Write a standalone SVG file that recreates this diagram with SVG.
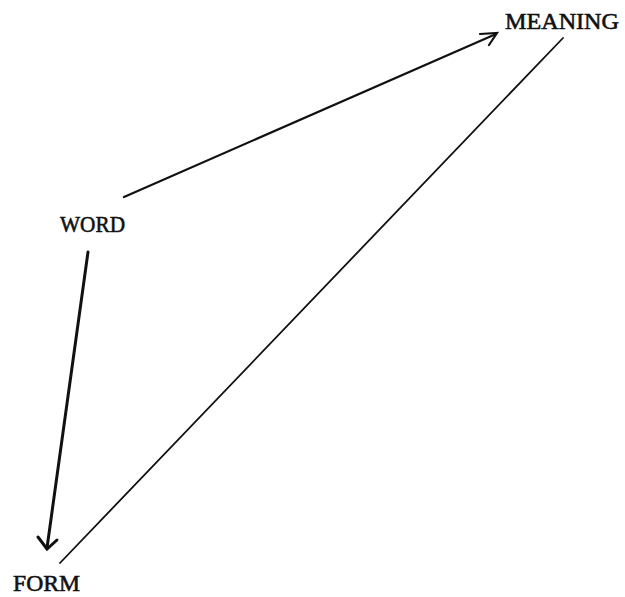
<svg xmlns="http://www.w3.org/2000/svg" width="625" height="597" viewBox="0 0 625 597">
<style>
.lbl{font-family:"Liberation Serif","Times New Roman",serif;font-size:24px;fill:#111;stroke:#111;stroke-width:0.6;}
.ln{stroke:#111;fill:none;stroke-linecap:round;}
</style>
<rect width="625" height="597" fill="#fff"/>
<g id="connectors">
<line class="ln" x1="124" y1="197" x2="496" y2="34" stroke-width="2.2"/>
<polyline class="ln" points="480,34 497,33 489,45" stroke-width="2.2"/>
<line class="ln" x1="563" y1="38" x2="60" y2="563" stroke-width="1.8"/>
<line class="ln" x1="88" y1="252" x2="47" y2="548" stroke-width="3"/>
<polyline class="ln" points="38,537 47,549 57,540" stroke-width="3"/>
</g>
<g id="node-meaning"><text class="lbl" x="505" y="29" textLength="114" lengthAdjust="spacingAndGlyphs">MEANING</text></g>
<g id="node-word"><text class="lbl" x="60" y="232" textLength="65" lengthAdjust="spacingAndGlyphs">WORD</text></g>
<g id="node-form"><text class="lbl" x="13" y="591" textLength="67" lengthAdjust="spacingAndGlyphs">FORM</text></g>
</svg>
